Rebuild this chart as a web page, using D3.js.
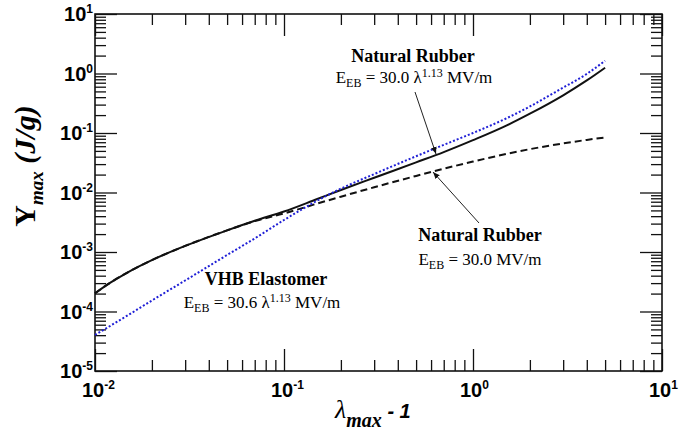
<!DOCTYPE html>
<html>
<head>
<meta charset="utf-8">
<script src="https://cdn.jsdelivr.net/npm/d3@7"></script>
<style>
  body { margin: 0; background: #fff; }
  svg { display: block; }
  .domain { display: none; }
  .tick line { stroke: #111; stroke-width: 1.3px; }
</style>
</head>
<body>
<div class="graph"></div>
<script>
// strain (lambda_max - 1) and max energy density Y_max (J/g)
const strain     = [0.01, 0.012, 0.015, 0.02, 0.03, 0.05, 0.07, 0.1, 0.15, 0.2, 0.3, 0.5, 0.7, 1, 1.5, 2, 3, 4, 5];
const nrVariable = [2.02e-4, 3.02e-4, 4.61e-4, 7.31e-4, 1.265e-3, 2.31e-3, 3.35e-3, 4.79e-3, 7.78e-3, 1.10e-2, 1.77e-2, 3.21e-2, 4.77e-2, 7.57e-2, 0.133, 0.211, 0.430, 0.764, 1.25];
const nrConstant = [2.02e-4, 3.02e-4, 4.61e-4, 7.31e-4, 1.265e-3, 2.31e-3, 3.30e-3, 4.44e-3, 6.52e-3, 8.51e-3, 1.225e-2, 1.90e-2, 2.51e-2, 3.31e-2, 4.44e-2, 5.35e-2, 6.68e-2, 7.66e-2, 8.41e-2];
const vhb        = [4.03e-5, 5.70e-5, 8.73e-5, 1.53e-4, 3.32e-4, 8.91e-4, 1.69e-3, 3.45e-3, 7.31e-3, 1.16e-2, 2.04e-2, 4.07e-2, 6.31e-2, 0.100, 0.176, 0.279, 0.579, 0.984, 1.64];

const xExps = [-2, -1, 0, 1];
const yExps = [-5, -4, -3, -2, -1, 0, 1];

const W = 700, H = 431;
const margin = {top: 14, right: 38, bottom: 60, left: 95},
  width = W - margin.left - margin.right,
  height = H - margin.top - margin.bottom;

const svg = d3.select(".graph").append("svg")
  .attr("width", W)
  .attr("height", H);

const x = d3.scaleLog().domain([0.01, 10]).range([0, width]),
      y = d3.scaleLog().domain([1e-5, 10]).range([height, 0]);

const g = svg.append("g")
  .attr("transform", "translate(" + margin.left + "," + margin.top + ")");

// tick positions
const majorX = xExps.map(e => Math.pow(10, e)),
      majorY = yExps.map(e => Math.pow(10, e));
const minorX = [], minorY = [];
xExps.slice(0, -1).forEach(e => { for (let k = 2; k < 10; k++) minorX.push(k * Math.pow(10, e)); });
yExps.slice(0, -1).forEach(e => { for (let k = 2; k < 10; k++) minorY.push(k * Math.pow(10, e)); });

const MAJ = 22, MIN = 11;

function addAxis(axisFn, scale, values, size, transform){
  g.append("g")
    .attr("transform", transform)
    .call(axisFn(scale).tickValues(values).tickSizeInner(-size).tickSizeOuter(0).tickFormat(""));
}
// bottom & top
addAxis(d3.axisBottom, x, majorX, MAJ, "translate(0," + height + ")");
addAxis(d3.axisBottom, x, minorX, MIN, "translate(0," + height + ")");
addAxis(d3.axisTop, x, majorX, MAJ, "translate(0,0)");
addAxis(d3.axisTop, x, minorX, MIN, "translate(0,0)");
// left & right
addAxis(d3.axisLeft, y, majorY, MAJ, "translate(0,0)");
addAxis(d3.axisLeft, y, minorY, MIN, "translate(0,0)");
addAxis(d3.axisRight, y, majorY, MAJ, "translate(" + width + ",0)");
addAxis(d3.axisRight, y, minorY, MIN, "translate(" + width + ",0)");

// frame
g.append("rect")
  .attr("width", width)
  .attr("height", height)
  .attr("fill", "none")
  .attr("stroke", "#111")
  .attr("stroke-width", 1.6);

// tick labels
const tickFont = "'Liberation Sans', Arial, sans-serif";
xExps.forEach(e => {
  const t = g.append("text")
    .attr("x", x(Math.pow(10, e)) - 13)
    .attr("y", height + 26)
    .attr("font-family", tickFont)
    .attr("font-weight", "bold")
    .attr("font-size", 20);
  t.append("tspan").text("10");
  t.append("tspan").attr("dy", -8).attr("font-size", 12).text(e);
});
yExps.forEach(e => {
  const t = g.append("text")
    .attr("x", -2)
    .attr("y", y(Math.pow(10, e)) + 7)
    .attr("text-anchor", "end")
    .attr("font-family", tickFont)
    .attr("font-weight", "bold")
    .attr("font-size", 20);
  t.append("tspan").text("10");
  t.append("tspan").attr("dy", -8).attr("font-size", 12).text(e);
});

// curves
const line = d3.line()
  .curve(d3.curveMonotoneX)
  .x(d => x(d[0]))
  .y(d => y(d[1]));

const plot = g.append("g");
plot.append("path")
  .attr("d", line(d3.zip(strain, nrConstant)))
  .attr("fill", "none")
  .attr("stroke", "#111")
  .attr("stroke-width", 2)
  .attr("stroke-dasharray", "7,4");
plot.append("path")
  .attr("d", line(d3.zip(strain, nrVariable)))
  .attr("fill", "none")
  .attr("stroke", "#111")
  .attr("stroke-width", 2);
plot.append("path")
  .attr("d", line(d3.zip(strain, vhb)))
  .attr("fill", "none")
  .attr("stroke", "#1f1fd6")
  .attr("stroke-width", 2)
  .attr("stroke-dasharray", "2,2");

// annotations
const serif = "Georgia, 'Liberation Serif', 'DejaVu Serif', serif";
svg.append("defs").append("marker")
    .attr("id", "arrow")
    .attr("viewBox", "0 0 10 10")
    .attr("refX", 10).attr("refY", 5)
    .attr("markerWidth", 7).attr("markerHeight", 7)
    .attr("orient", "auto")
  .append("path")
    .attr("d", "M0,1L10,5L0,9z")
    .attr("fill", "#111");

function label(cx, cy, title){
  svg.append("text")
    .attr("x", cx).attr("y", cy)
    .attr("text-anchor", "middle")
    .attr("font-family", serif)
    .attr("font-weight", "bold")
    .attr("font-size", 18)
    .text(title);
}
function formula(cx, cy, coef, withPow){
  const t = svg.append("text")
    .attr("x", cx).attr("y", cy)
    .attr("text-anchor", "middle")
    .attr("font-family", serif)
    .attr("font-size", 17);
  t.append("tspan").text("E");
  t.append("tspan").attr("dy", 4).attr("font-size", 12).text("EB");
  if (withPow){
    t.append("tspan").attr("dy", -4).text(" = " + coef + " \u03bb");
    t.append("tspan").attr("dy", -6).attr("font-size", 12).text("1.13");
    t.append("tspan").attr("dy", 6).text(" MV/m");
  } else {
    t.append("tspan").attr("dy", -4).text(" = " + coef + " MV/m");
  }
}
function arrow(x1, y1, x2, y2){
  svg.append("line")
    .attr("x1", x1).attr("y1", y1).attr("x2", x2).attr("y2", y2)
    .attr("stroke", "#222").attr("stroke-width", 1)
    .attr("marker-end", "url(#arrow)");
}

label(413, 62, "Natural Rubber");
formula(414, 83, "30.0", true);
arrow(415, 92, 436, 154);

label(480, 241, "Natural Rubber");
formula(480, 265, "30.0", false);
arrow(479, 223, 433, 172);

label(266, 285, "VHB Elastomer");
formula(262, 308, "30.6", true);

// axis titles
const yt = svg.append("text")
  .attr("transform", "translate(35,166) rotate(-90)")
  .attr("text-anchor", "middle")
  .attr("font-family", "'Liberation Serif', 'Times New Roman', serif")
  .attr("font-weight", "bold")
  .attr("font-size", 30);
yt.append("tspan").text("Y");
yt.append("tspan").attr("dy", 8).attr("font-size", 19).attr("font-style", "italic").text("max");
yt.append("tspan").attr("dy", -8).attr("font-style", "italic").text(" (J/g)");

const xt = svg.append("text")
  .attr("x", 335).attr("y", 418)
  .attr("font-family", "'Liberation Serif', 'Times New Roman', serif")
  .attr("font-size", 26);
xt.append("tspan").attr("font-style", "italic").text("\u03bb");
xt.append("tspan").attr("dy", 9).attr("font-size", 20).attr("font-style", "italic").attr("font-weight", "bold").text("max");
xt.append("tspan").attr("dy", -9).attr("font-family", "'Liberation Sans', Arial, sans-serif")
  .attr("font-size", 20).attr("font-style", "italic").attr("font-weight", "bold").text(" - 1");
</script>
</body>
</html>
